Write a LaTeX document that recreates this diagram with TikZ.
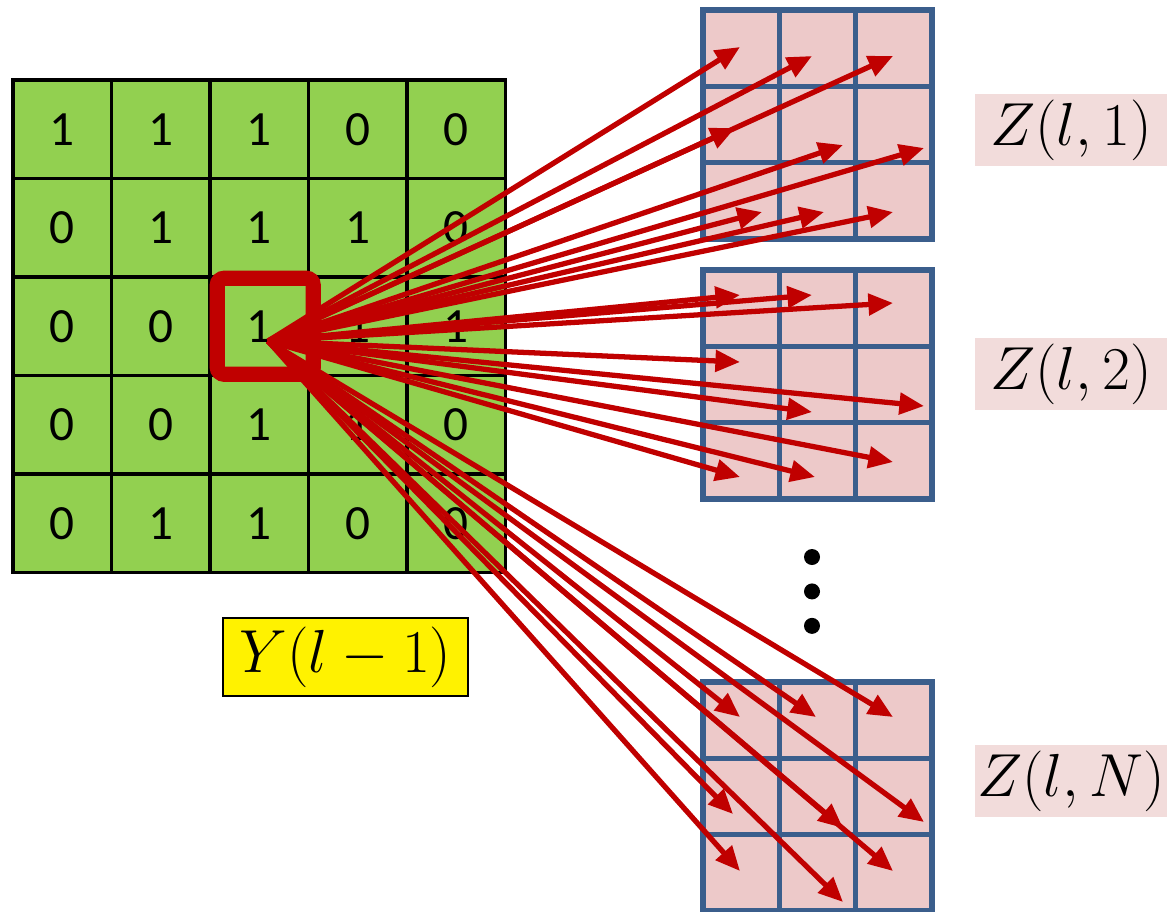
\documentclass[tikz,border=0pt]{standalone}
\usepackage{fontspec}
\setmainfont{Carlito}
\usepackage{xcolor}
\usepackage{tikz}
\usetikzlibrary{arrows.meta,positioning}

\definecolor{cellgreen}{RGB}{146,208,80}
\definecolor{zpink}{RGB}{237,201,201}
\definecolor{lblpink}{RGB}{242,220,219}
\definecolor{gridblue}{RGB}{59,94,140}
\definecolor{arrred}{RGB}{192,0,0}

\begin{document}
\begin{tikzpicture}[
    x=0.01cm, y=-0.01cm,
    gcell/.style={rectangle, draw=black, line width=0.9pt, fill=cellgreen, minimum size=0.985cm, inner sep=0pt, font=\fontsize{14}{16}\selectfont},
    zcell/.style={rectangle, draw=gridblue, line width=1.5pt, fill=zpink, minimum size=0.763cm, inner sep=0pt},
    sel/.style={rectangle, draw=arrred, line width=4.3pt, rounded corners=2pt, minimum size=0.96cm},
    zlab/.style={rectangle, fill=lblpink, minimum width=1.92cm, minimum height=0.72cm, inner sep=0pt, font=\fontsize{17}{20}\selectfont},
    ylab/.style={rectangle, draw=black, line width=0.6pt, fill=yellow, minimum width=2.45cm, minimum height=0.78cm, inner sep=0pt, font=\fontsize{19}{22}\selectfont},
    dot/.style={circle, fill=black, minimum size=0.16cm, inner sep=0pt},
    arr/.style={-{Triangle[length=7pt,width=6pt]}, draw=arrred, fill=arrred, line width=1.5pt}
]
\useasboundingbox (0,0) rectangle (1167,911);

% input map
\foreach \row [count=\r from 0] in {{1,1,1,0,0},{0,1,1,1,0},{0,0,1,1,1},{0,0,1,1,0},{0,1,1,0,0}}
  \foreach \v [count=\c from 0] in \row
    \node (g\r\c) [gcell] at ({13+98.5*(\c+.5)},{80+98.5*(\r+.5)}) {\v};
\node (sel) [sel, xshift=0.06cm] at (g22) {};
\node (ylab) [ylab] at (345.5,657) {$Y(l-1)$};

% output maps
\foreach \k/\top in {1/10,2/270,3/682}
  \foreach \r in {0,1,2}
    \foreach \c in {0,1,2}
      \node (z\k\r\c) [zcell] at ({703+76.3*(\c+.5)},{\top+76.3*(\r+.5)}) {};
\node (zlab1) [zlab] at (1071,130) {$Z(l,1)$};
\node (zlab2) [zlab] at (1071,374) {$Z(l,2)$};
\node (zlabN) [zlab] at (1071,781) {$Z(l,N)$};
\node (d1) [dot] at (812,557) {};
\node (d2) [dot, below=0.17cm of d1] {};
\node (d3) [dot, below=0.17cm of d2] {};

% arrow ends
\coordinate (src) at (268,341);
\foreach \x/\y [count=\i] in {740/47,812/56,893/56,735/128,843/145,924/148,762/212,824/212,893/212,
    740/295,812/295,893/303,740/362,924/406,812/412,893/462,740/477,815/477,
    740/717,816/717,893/717,733/814,843/828,924/822,740/871,843/902,893/871}
  \coordinate (t\i) at (\x,\y);
\foreach \i in {1,...,27}
  \draw[arr] (src) -- (t\i);
\end{tikzpicture}
\end{document}
